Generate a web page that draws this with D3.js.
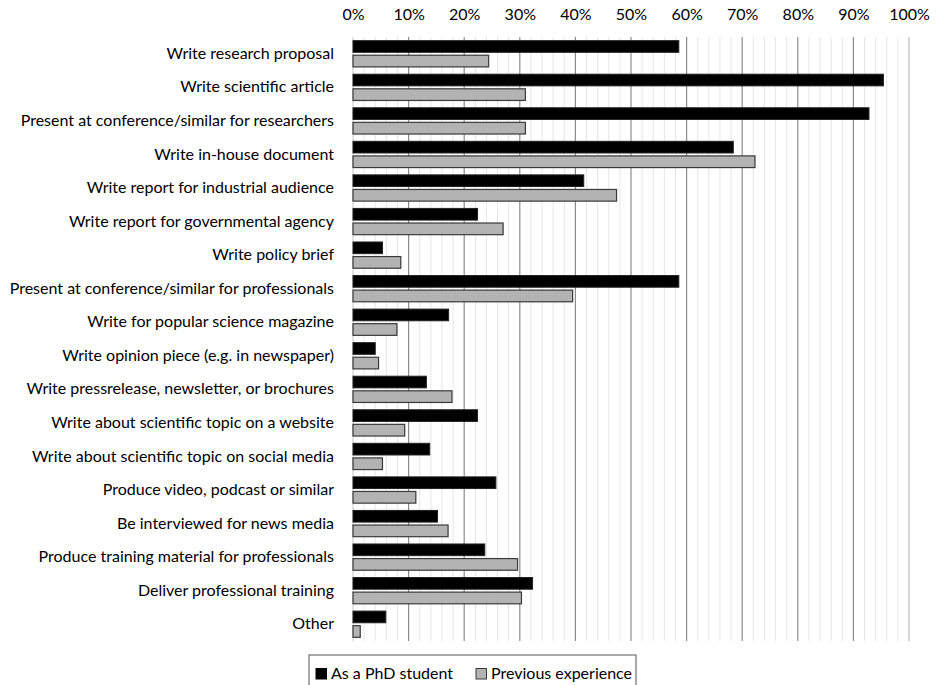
<!DOCTYPE html>
<html>
<head>
<meta charset="utf-8">
<script src="https://cdn.jsdelivr.net/npm/d3@7"></script>
<style>
  body { margin: 0; background: #fff; }
  text { font-family: Lato, "Open Sans", sans-serif; fill: #000; }
</style>
</head>
<body>
<div class="root"></div>
<script>
const categories = [
  'Write research proposal',
  'Write scientific article',
  'Present at conference/similar for researchers',
  'Write in-house document',
  'Write report for industrial audience',
  'Write report for governmental agency',
  'Write policy brief',
  'Present at conference/similar for professionals',
  'Write for popular science magazine',
  'Write opinion piece (e.g. in newspaper)',
  'Write pressrelease, newsletter, or brochures',
  'Write about scientific topic on a website',
  'Write about scientific topic on social media',
  'Produce video, podcast or similar',
  'Be interviewed for news media',
  'Produce training material for professionals',
  'Deliver professional training',
  'Other'
];
const phdStudent = [58.6, 95.4, 92.8, 68.4, 41.5, 22.4, 5.3, 58.6, 17.2, 4.0, 13.2, 22.4, 13.8, 25.7, 15.2, 23.7, 32.3, 5.9];
const previous = [24.4, 31.0, 31.0, 72.3, 47.4, 27.0, 8.6, 39.5, 7.9, 4.6, 17.8, 9.3, 5.3, 11.3, 17.1, 29.6, 30.3, 1.3];
const seriesNames = ['As a PhD student', 'Previous experience'];
const tickValues = [0, 10, 20, 30, 40, 50, 60, 70, 80, 90, 100];

const width = 937, height = 685;
const margin = { top: 37, left: 353, right: 28, bottom: 44 };

const svg = d3.select('.root')
  .append('svg')
  .attr('width', width)
  .attr('height', height);

const x = d3.scaleLinear()
  .domain([0, 100])
  .range([margin.left, width - margin.right]);

const y = d3.scaleBand()
  .domain(categories)
  .range([margin.top, height - margin.bottom]);

const inner = d3.scaleBand()
  .domain(seriesNames)
  .range([0, y.bandwidth()])
  .paddingInner(0.2)
  .paddingOuter(0.25);

// minor grid
svg.append('g')
  .selectAll('line')
  .data(d3.range(2, 100, 2).filter(d => d % 10 !== 0))
  .enter()
  .append('line')
  .attr('x1', d => x(d)).attr('x2', d => x(d))
  .attr('y1', margin.top).attr('y2', height - margin.bottom)
  .attr('stroke', '#e6e6e6')
  .attr('stroke-width', 1);

// major grid
svg.append('g')
  .selectAll('line')
  .data(tickValues)
  .enter()
  .append('line')
  .attr('x1', d => x(d)).attr('x2', d => x(d))
  .attr('y1', margin.top).attr('y2', height - margin.bottom)
  .attr('stroke', d => d === 0 ? '#d0d0d0' : (d === 100 ? '#bbbbbb' : '#8c8c8c'))
  .attr('stroke-width', 1.2);

// top axis labels
const xAxis = svg.append('g')
  .attr('transform', `translate(0, ${margin.top - 14})`)
  .call(d3.axisTop(x).tickValues(tickValues).tickFormat(d => d + '%').tickSize(0));
xAxis.select('.domain').remove();
xAxis.selectAll('text')
  .attr('font-size', 16)
  .style('font-family', 'Lato, "Open Sans", sans-serif');

// category labels
const yAxis = svg.append('g')
  .attr('transform', `translate(${margin.left - 16}, 0)`)
  .call(d3.axisLeft(y).tickSize(0));
yAxis.select('.domain').remove();
yAxis.selectAll('text')
  .attr('font-size', 16)
  .style('font-family', 'Lato, "Open Sans", sans-serif');

// bars
const rows = svg.append('g')
  .selectAll('g')
  .data(categories)
  .enter()
  .append('g')
  .attr('transform', d => `translate(0, ${y(d)})`);

rows.append('rect')
  .attr('x', x(0))
  .attr('y', inner(seriesNames[0]))
  .attr('width', (d, i) => x(phdStudent[i]) - x(0))
  .attr('height', inner.bandwidth())
  .attr('fill', '#000')
  .attr('stroke', '#222')
  .attr('stroke-width', 1);

rows.append('rect')
  .attr('x', x(0))
  .attr('y', inner(seriesNames[1]))
  .attr('width', (d, i) => x(previous[i]) - x(0))
  .attr('height', inner.bandwidth())
  .attr('fill', '#b3b3b3')
  .attr('stroke', '#3a3a3a')
  .attr('stroke-width', 1.2);

// legend
const legend = svg.append('g')
  .attr('transform', 'translate(309, 655)');

legend.append('rect')
  .attr('x', 0).attr('y', 0)
  .attr('width', 327).attr('height', 40)
  .attr('fill', '#fff')
  .attr('stroke', '#555')
  .attr('stroke-width', 1);

const legendX = [7, 167];
const item = legend.selectAll('.item')
  .data(seriesNames)
  .enter()
  .append('g')
  .attr('class', 'item')
  .attr('transform', (d, i) => `translate(${legendX[i]}, 0)`);

item.append('rect')
  .attr('x', 0).attr('y', 13.5)
  .attr('width', 10.5).attr('height', 10.5)
  .attr('fill', (d, i) => i === 0 ? '#000' : '#b3b3b3')
  .attr('stroke', (d, i) => i === 0 ? '#000' : '#3a3a3a');

item.append('text')
  .attr('x', 15).attr('y', 24)
  .attr('font-size', 16)
  .text(d => d);
</script>
</body>
</html>
